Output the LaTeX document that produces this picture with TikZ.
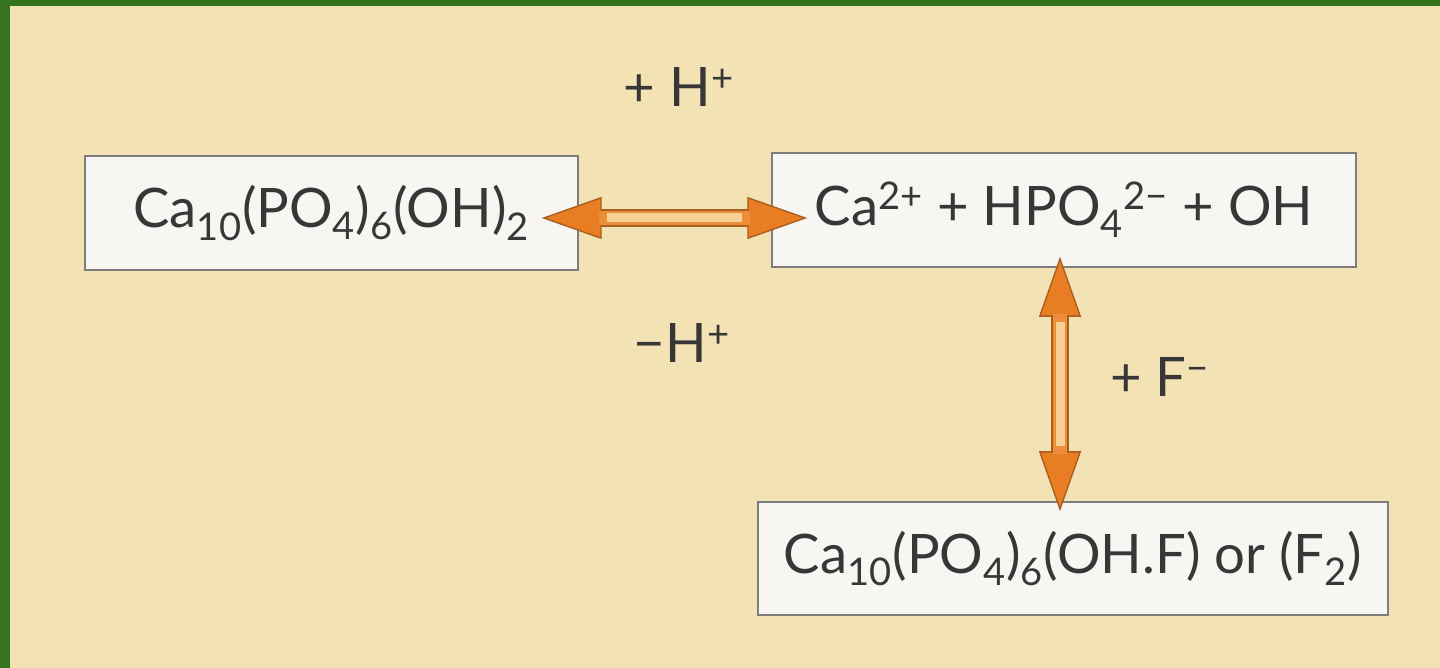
\documentclass[tikz,border=0pt]{standalone}
\usepackage{fontspec}
\setmainfont{Lato}
\usetikzlibrary{arrows.meta,calc}
\definecolor{frame}{RGB}{54,115,30}
\definecolor{paper}{RGB}{243,226,180}
\definecolor{boxfill}{RGB}{247,246,243}
\definecolor{boxline}{RGB}{125,125,125}
\definecolor{ink}{RGB}{55,55,55}
\definecolor{flame}{RGB}{232,125,35}
\definecolor{rust}{RGB}{170,95,30}
\definecolor{glow}{RGB}{248,208,150}
\tikzset{
  chem/.style={draw=boxline,fill=boxfill,line width=0.9pt,inner sep=0pt,
    minimum height=2.28cm,text=ink,font=\fontsize{31}{37}\selectfont},
  tag/.style={anchor=base,text=ink,font=\fontsize{31}{37}\selectfont},
  eqarrow/.style={line width=0.36cm,draw=rust,
    >={Triangle[length=1.2cm,width=0.84cm,line width=0.8pt,fill=flame,color=rust]},<->,
    postaction={draw=flame!80!glow,line width=0.28cm,arrows=-,shorten <=1.15cm,shorten >=1.15cm},
    postaction={draw=glow,line width=0.18cm,arrows=-,shorten <=1.3cm,shorten >=1.3cm}},
}
\begin{document}
\begin{tikzpicture}[x=0.02cm,y=-0.02cm]
  % frame and paper
  \useasboundingbox (0,0) rectangle (1440,668);
  \fill[frame] (0,0) rectangle (1440,668);
  \fill[paper] (10,6) rectangle (1440,668);

  \node[chem,minimum width=9.86cm] (hap) at (331.5,213)
    {Ca\textsubscript{10}(PO\textsubscript{4})\textsubscript{6}(OH)\textsubscript{2}};
  \node[chem,minimum width=11.68cm] (ions) at (1064,210)
    {Ca\textsuperscript{2+} + HPO\textsubscript{4}\textsuperscript{2−} + OH};
  \node[chem,minimum width=12.6cm,minimum height=2.26cm] (fap) at (1073,558.5)
    {Ca\textsubscript{10}(PO\textsubscript{4})\textsubscript{6}(OH.F) or (F\textsubscript{2})};

  \node[tag] (hplus) at (679,107) {+ H\textsuperscript{+}};
  \node[tag] (hminus) at (682,363) {−H\textsuperscript{+}};
  \node[tag] (fminus) at (1160,397) {+ F\textsuperscript{−}};

  % equilibria
  \draw[eqarrow] ($(hap.east)+(-37,5)$) -- ($(ions.west)+(36,8)$);
  \draw[eqarrow] ($(ions.south)+(-4,-11)$) -- ($(fap.north)+(-13,10)$);
\end{tikzpicture}
\end{document}
